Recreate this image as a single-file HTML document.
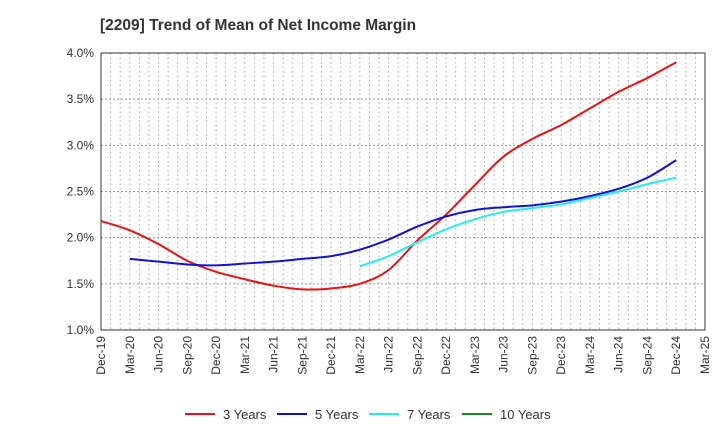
<!DOCTYPE html>
<html><head><meta charset="utf-8"><style>
body{margin:0;background:#fff;font-family:"Liberation Sans",sans-serif;}
</style></head><body>
<svg width="720" height="440" viewBox="0 0 720 440">
<text x="100" y="30" font-size="15.5" font-weight="bold" fill="#333">[2209]  Trend of Mean of Net Income Margin</text>
<g id="grid"></g>
<rect x="101" y="53" width="604" height="277" fill="none" stroke="#333" stroke-width="1"/>
<g id="yt"></g><g id="xt"></g><g id="series"></g><g id="legend"></g>
</svg>
<script>
const xLabels=["Dec-19","Mar-20","Jun-20","Sep-20","Dec-20","Mar-21","Jun-21","Sep-21","Dec-21","Mar-22","Jun-22","Sep-22","Dec-22","Mar-23","Jun-23","Sep-23","Dec-23","Mar-24","Jun-24","Sep-24","Dec-24","Mar-25"];
const yTicks=[1.0,1.5,2.0,2.5,3.0,3.5,4.0];
const s3=[2.18,2.08,1.93,1.75,1.63,1.55,1.48,1.44,1.45,1.50,1.65,1.97,2.25,2.57,2.88,3.07,3.22,3.40,3.58,3.73,3.90];
const s5=[null,1.77,1.74,1.71,1.70,1.72,1.74,1.77,1.80,1.87,1.98,2.12,2.23,2.30,2.33,2.35,2.39,2.45,2.53,2.65,2.84];
const s7=[null,null,null,null,null,null,null,null,null,1.69,1.80,1.95,2.09,2.20,2.28,2.32,2.36,2.43,2.50,2.58,2.65];
const s10=[];
const NS="http://www.w3.org/2000/svg";
const X0=101,X1=705,Y0=330,Y1=53;
const xq=i=>X0+i*(X1-X0)/21;
const yv=v=>Y0-(v-1.0)*(Y0-Y1)/3.0;
function mk(t,a,p){const e=document.createElementNS(NS,t);for(const k in a)e.setAttribute(k,a[k]);(p||document.getElementById('series')).appendChild(e);return e;}
const g=document.getElementById('grid');
for(let m=1;m<63;m++){const x=X0+m*(X1-X0)/63;
const l=mk('line',{x1:x,x2:x,y1:Y1,y2:Y0,stroke:'#aaa','stroke-dasharray':'1.5,3','stroke-width':1},g);

}
yTicks.forEach(v=>{const y=yv(v);
if(v>1&&v<4){const l=mk('line',{x1:X0,x2:X1,y1:y,y2:y,stroke:'#999','stroke-dasharray':'2,2'},g);

}
const t=mk('text',{x:94,y:y+4,'font-size':12,'text-anchor':'end',fill:'#333'},document.getElementById('yt'));
t.textContent=v.toFixed(1)+'%';

});
xLabels.forEach((s,i)=>{const x=xq(i);
const t=mk('text',{x:0,y:0,'font-size':12,'text-anchor':'end',fill:'#333',transform:`translate(${x+4},336) rotate(-90)`},document.getElementById('xt'));
t.textContent=s;

});
function path(arr){const p=[];arr.forEach((v,i)=>{if(v!=null)p.push([xq(i),yv(v)]);});
if(!p.length)return '';let d=`M${p[0][0]},${p[0][1]}`;
for(let i=0;i<p.length-1;i++){const a=p[i-1]||p[i],b=p[i],c=p[i+1],e=p[i+2]||c;
d+=` C${b[0]+(c[0]-a[0])/6},${b[1]+(c[1]-a[1])/6} ${c[0]-(e[0]-b[0])/6},${c[1]-(e[1]-b[1])/6} ${c[0]},${c[1]}`;}return d;}
const series=[[s3,'#ee1111','3 Years','line-3-years'],[s5,'#1111dd','5 Years','line-5-years'],[s7,'#22eeee','7 Years','line-7-years'],[s10,'#228822','10 Years','line-10-years']];
series.forEach(([a,c,n,id])=>{const d=path(a);if(d){const e=mk('path',{d:d,fill:'none',stroke:c,'stroke-width':2});

}});
const lx=[185,277,369,462];
series.forEach(([a,c,n],i)=>{const lg=document.getElementById('legend');
const l=mk('line',{x1:lx[i],x2:lx[i]+30,y1:414,y2:414,stroke:c,'stroke-width':2},lg);


const t=mk('text',{x:lx[i]+38,y:419,'font-size':13,fill:'#333'},lg);
t.textContent=n;

});
</script>
</body></html>
